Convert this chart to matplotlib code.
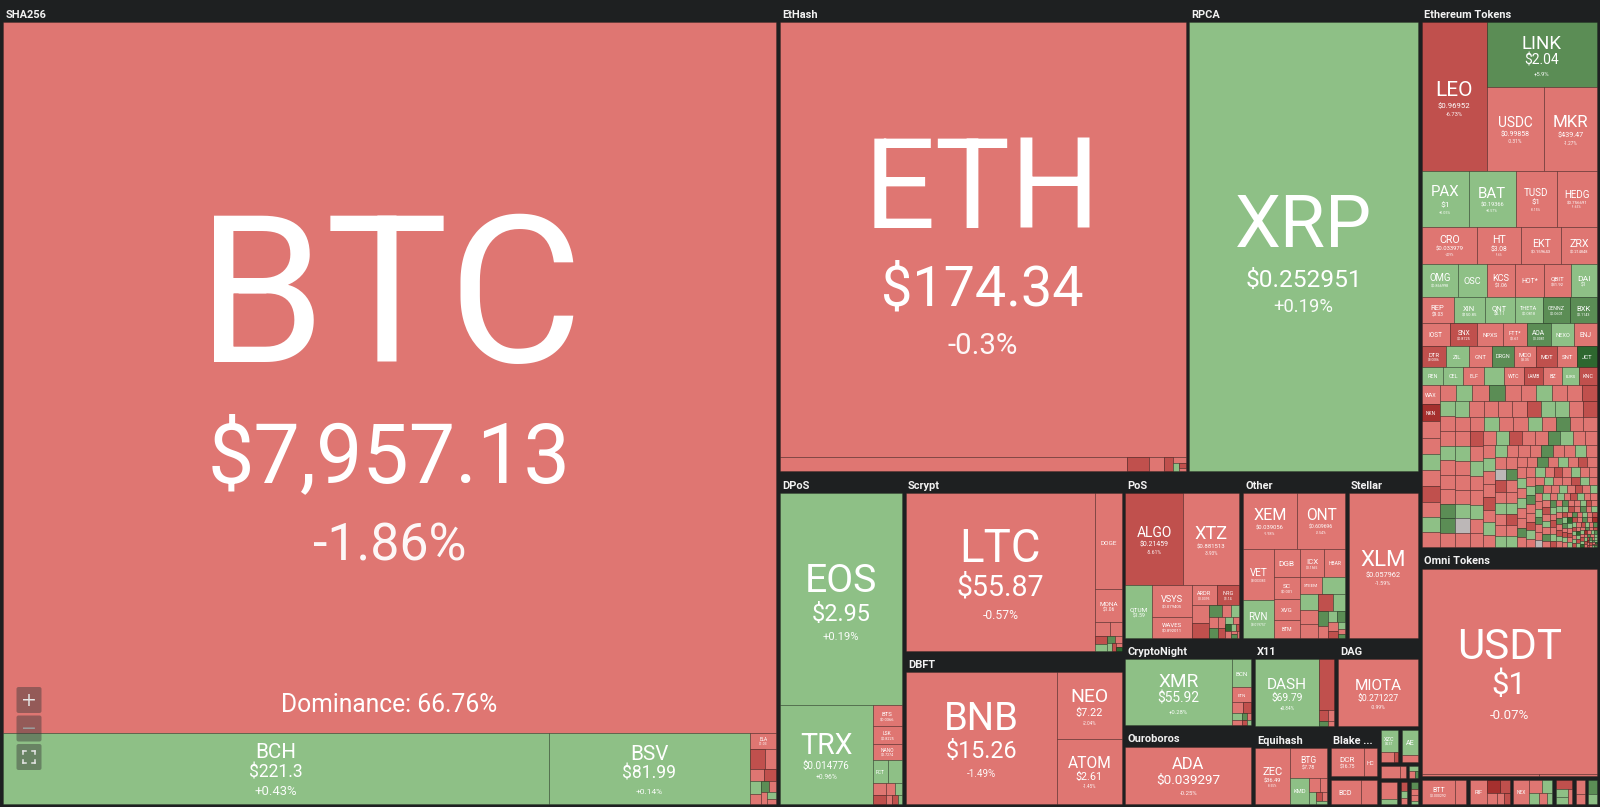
import matplotlib
matplotlib.use("Agg")
import matplotlib.pyplot as plt
from matplotlib.patches import Rectangle, FancyBboxPatch

plt.rcParams['font.family'] = ['Roboto', 'DejaVu Sans']

# ---------------- data ----------------
GROUP_NAMES = ['SHA256', 'EtHash', 'RPCA', 'Ethereum Tokens', 'Omni Tokens',
               'TRC-10', 'RSK', 'NEP-5', 'BEP-2', 'Waves', 'TRC-20',
               'DPoS', 'Scrypt', 'DBFT', 'PoS', 'Other', 'Stellar',
               'CryptoNight', 'Ouroboros', 'X11', 'DAG', 'Equihash', 'Blake ...',
               'X13', 'Zcoin', 'Aeternity', 'Lyra2', 'Groestl', 'Quark', 'NeoScrypt', 'Skein']
GROUP_WEIGHTS = [627.8, 193.9, 110.2, 98.3, 41.2,
                 1.34, 1.23, 1.18, 0.56, 0.36, 0.34,
                 42.1, 39.6, 33.9, 19.7, 17.7, 12.2,
                 11.4, 10.3, 7.4, 7.5, 5.9, 2.5,
                 1.4, 0.76, 0.72, 0.45, 0.2, 0.52, 0.26, 0.29]

# (symbol, size, price, 24h change %)
SHA256_COINS = [('BTC', 549500, '$7,957.13', -1.86), ('BCH', 38800, '$221.3', 0.43),
                ('BSV', 14300, '$81.99', 0.14), ('ELA', 420, '$1.03', -2.1)]
SHA256_TAIL = [300, 220, 180, 150, 130, 110, 90, 80, 70, 60, 50]
SHA256_TAIL_COLORS = 'RrrRgrGrrgr'

ETHASH_COINS = [('ETH', 177000, '$174.34', -0.3), ('ETC', 4900, '$3.82', -0.46),
                ('ETP', 320, '$0.0759', -5.3), ('UBQ', 210, '$0.083', -1.2)]
ETHASH_TAIL = [120, 80, 50, 30, 20]
ETHASH_TAIL_COLORS = 'RrgRr'

RPCA_COINS = [('XRP', 102000, '$0.252951', 0.19)]

ETH_TOKENS = [('LEO', 8800, '$0.96952', -6.73), ('LINK', 6500, '$2.04', 5.9),
              ('USDC', 4400, '$0.99858', -0.31), ('MKR', 4050, '$439.47', -1.27),
              ('PAX', 2400, '$1', 0.05), ('BAT', 2400, '$0.19366', 0.57),
              ('TUSD', 2100, '$1', -0.15), ('HEDG', 2070, '$0.756691', -1.65),
              ('CRO', 1860, '$0.033979', -4.09), ('HT', 1470, '$3.08', -1.6),
              ('EKT', 1330, '$0.159643', -1.2), ('ZRX', 1200, '$0.214848', -1.27),
              ('OMG', 1100, '$0.866998', 4.4), ('OSC', 870, '$0.658111', 1.1),
              ('KCS', 870, '$1.06', -1.34), ('HOT*', 870, '$0.000617', -2.1),
              ('QBIT', 800, '$31.92', -0.86), ('DAI', 800, '$1', 0.3),
              ('REP', 760, '$9.03', -1.33), ('XIN', 750, '$150.85', 0.8),
              ('QNT', 710, '$6.11', 1.5), ('THETA', 680, '$0.0818', 1.0),
              ('CENNZ', 650, '$0.0601', 6.2), ('BXK', 640, '$0.1143', 7.4),
              ('IOST', 580, '$0.003766', -1.1), ('SNX', 570, '$0.8725', -6.5),
              ('NPXS', 520, '$0.000239', -1.9), ('FTT*', 500, '$1.61', -1.2),
              ('AOA', 500, '$0.0081', 6.0), ('NEXO', 480, '$0.0974', 1.3),
              ('ENJ', 470, '$0.0434', -2.3), ('DTR', 450, '$0.0086', -5.5),
              ('ZIL', 450, '$0.00412', 1.1), ('GNT', 420, '$0.0381', -1.6),
              ('DRGN', 420, '$0.0462', 5.6), ('MCO', 420, '$3.35', -1.5),
              ('MDT', 400, '$0.0124', -6.1), ('SNT', 380, '$0.0101', -2.2),
              ('JCT', 370, '$0.0276', 11.2), ('REN', 360, '$0.0421', 1.6),
              ('CEL', 350, '$0.1112', 2.4), ('ELF', 350, '$0.0512', -1.8),
              ('SEELE', 350, '$0.0218', 1.3), ('WTC', 330, '$0.602', -1.4),
              ('LAMB', 330, '$0.045', -5.9), ('BZ', 320, '$0.19', -2.2),
              ('EURS', 300, '$1.11', 0.6), ('KNC', 300, '$0.16', -5.2),
              ('WAX', 300, '$0.038', -1.9), ('NKN', 280, '$0.0135', -10.4)]
ETH_TOKENS_TAIL = [
    270, 264, 263, 255, 252, 250, 244, 243, 238, 235, 233, 230, 226, 225, 221, 220, 216, 215, 212, 210,
    209, 208, 207, 206, 205, 204, 203, 202, 201, 200, 199, 198, 197, 196, 195, 194, 193, 192, 191, 190,
    207, 206, 203, 202, 200, 198, 197, 195, 194, 192,
    190, 188, 185, 184, 181, 180, 177, 175, 174, 171, 170, 168, 166, 164, 162, 160, 158, 157, 155, 153,
    152, 150, 148, 147, 145, 144, 142, 140, 139, 137, 136, 134, 133, 131, 130, 129, 127, 126, 125, 123,
    121, 120, 118, 117, 115, 114, 112, 111, 110, 108, 107, 106, 104, 103, 102, 100, 99, 98, 97, 95,
    94, 93, 92, 91, 90, 89, 88, 87, 86, 85, 84, 83, 82, 81, 80, 79, 78, 77, 76, 75,
    74, 73, 72, 71, 70, 69, 68, 67, 66, 65,
    64, 63, 62, 61, 60, 59, 58, 57, 56, 55, 55, 54, 53, 52, 52, 51, 50, 50, 49, 48,
    48, 47, 47, 46, 46, 45, 45, 44, 44, 43, 43, 42, 42, 41, 41, 40, 40, 39, 39, 38,
    38, 37, 37, 36, 36, 35, 35, 34, 34, 33, 33, 32, 32, 31, 31, 30, 30, 29, 29, 28,
    28, 27, 27, 27, 26, 26, 26, 25, 25, 25, 24, 24, 24, 23, 23, 23, 22, 22, 22, 21,
    21, 21, 20, 20, 20, 19, 19, 19, 18, 18, 18, 17, 17, 17, 16, 16, 16, 15, 15, 15,
    14, 14, 14, 13, 13, 13, 12, 12, 12, 11, 11, 11, 10, 10, 10, 9, 9, 9, 8, 8,
    8, 8, 7, 7, 7, 7, 6, 6, 6, 6, 5, 5, 5, 5, 5, 4, 4, 4, 4, 4]
ETH_TOKENS_TAIL_COLORS = ('rrgrRrgrrg' 'rGrrgrrRgr' 'rgrrGrgrrR' 'grrgrrnrgr' 'rGrrgRrrgr'
                          'rgrGrrRrgr' 'rgrrrgRrrG' 'grrrgrrRrg' 'rgrrrGrrgr' 'rnRrgrrgrG'
                          'rrgRrgrrGr' 'grRrrgrgrr' 'GrrgrRrgrr' 'rgGrrRgrrg' 'rrRgrGrrgr'
                          'RrgrrgGrrn' 'grRrgrGrrg' 'rRgrrGgrRr' 'gRrGrrgRrg' 'rGrRgrgRrG'
                          'rgRrGrgrRg' 'GrRgrEgrRr' 'gRrGrDgrRg' 'rGRgrgRrEg' 'RgrGrRgDrg'
                          'GrRgErgRrG' 'rgRGrgDrRg' 'RrGgrERgrG' 'gRrEGrgDRg' 'rGgRrEgrDG'
                          'RgErGrgRDr')

OMNI_COINS = [('USDT', 36300, '$1', -0.07)]
OMNI_TAIL = [300, 150]
OMNI_TAIL_COLORS = 'rr'

TRC10_COINS = [('BTT', 560, '$0.000292', -2.3)]
TRC10_TAIL = [190]
TRC10_TAIL_COLORS = 'r'
RSK_COINS = [('RIF', 290, '$0.0713', -1.1)]
RSK_TAIL = [120, 90, 70, 50, 40]
RSK_TAIL_COLORS = 'DRrrR'
NEP5_COINS = [('NEX', 340, '$0.72', -1.5)]
NEP5_TAIL = [150, 120, 100, 80, 50]
NEP5_TAIL_COLORS = 'rggrg'
BEP2_TAIL = [150, 100, 80, 60]
BEP2_TAIL_COLORS = 'Rggr'
WAVES_TAIL = [120, 90]
WAVES_TAIL_COLORS = 'rr'
TRC20_TAIL = [90, 60]
TRC20_TAIL_COLORS = 'Gg'

DPOS_COINS = [('EOS', 25300, '$2.95', 0.19), ('TRX', 8900, '$0.014776', 0.96),
              ('BTS', 600, '$0.0366', -1.8), ('LSK', 500, '$0.8225', -1.2),
              ('NANO', 480, '$0.7274', -1.5), ('FCT', 350, '$3.2', 2.1)]
DPOS_TAIL = [300, 150, 120, 100, 80, 60, 50, 40]
DPOS_TAIL_COLORS = 'grRrgrRg'

SCRYPT_COINS = [('LTC', 30400, '$55.87', -0.57), ('DOGE', 2600, '$0.002247', -0.86),
                ('MONA', 900, '$1.06', -1.2)]
SCRYPT_TAIL = [200, 160, 100, 80, 60, 50, 40, 30, 25, 20]
SCRYPT_TAIL_COLORS = 'rrRgGrgRrE'

DBFT_COINS = [('BNB', 19800, '$15.26', -1.49), ('NEO', 4300, '$7.22', -2.04),
              ('ATOM', 4200, '$2.61', -1.45)]

POS_COINS = [('ALGO', 5100, '$0.21459', -5.61), ('XTZ', 5000, '$0.881513', -3.93),
             ('QTUM', 1350, '$1.59', 0.62), ('VSYS', 1200, '$0.079405', -2.71),
             ('WAVES', 800, '$0.892011', -1.63), ('ARDR', 450, '$0.0395', -1.4),
             ('NRG', 420, '$1.14', -5.8)]
POS_TAIL = [300, 250, 150, 120, 100, 90, 80, 70, 60, 50, 45, 40, 35, 30, 25, 20, 20, 15]
POS_TAIL_COLORS = 'rRGrgrGrRgrErgRrGr'

OTHER_COINS = [('XEM', 3000, '$0.039056', -1.98), ('ONT', 2700, '$0.609696', -2.54),
               ('VET', 1600, '$0.003383', -0.88), ('RVN', 1150, '$0.019757', 0.82),
               ('DGB', 740, '$0.005043', -1.72), ('ICX', 700, '$0.1565', -1.91),
               ('HBAR', 600, '$0.009421', -1.47), ('SC', 580, '$0.001', -0.93),
               ('XVG', 540, '$0.00325', -1.2), ('BTM', 460, '$0.05547', -1.5),
               ('STEEM', 400, '$0.1355', -1.1), ('NIM', 260, '$0.0012', -1.3)]
OTHER_TAIL = [400, 300, 250, 250, 200, 150, 120, 100, 90, 80, 60, 50, 40, 30]
OTHER_TAIL_COLORS = 'ggrRgGrgGrRgrG'

STELLAR_COINS = [('XLM', 9900, '$0.057962', -1.59)]

CRYPTONIGHT_COINS = [('XMR', 7100, '$55.92', 0.28), ('BCN', 550, '$0.000437', 0.51),
                     ('ETN', 300, '$0.0035', -1.6)]
CRYPTONIGHT_TAIL = [120, 90, 70, 50, 40, 30, 25, 20]
CRYPTONIGHT_TAIL_COLORS = 'rRgrGrRg'

OUROBOROS_COINS = [('ADA', 7300, '$0.039297', -0.25)]

X11_COINS = [('DASH', 4600, '$69.79', 0.84), ('ABBC', 800, '$0.126', -5.4)]
X11_TAIL = [100, 80, 50, 40]
X11_TAIL_COLORS = 'RrGr'

DAG_COINS = [('MIOTA', 5600, '$0.271227', -0.99)]

EQUIHASH_COINS = [('ZEC', 1800, '$36.49', -0.55), ('BTG', 1000, '$7.78', -0.85),
                  ('KMD', 450, '$0.6245', 0.62)]
EQUIHASH_TAIL = [150, 100, 80, 50, 40, 30]
EQUIHASH_TAIL_COLORS = 'rrgRrg'

BLAKE_COINS = [('DCR', 900, '$16.75', -0.7), ('HC', 350, '$1.06', -1.56)]
X13_COINS = [('BCD', 650, '$0.466297', -1.09), ('STRAT', 360, '$0.301', -1.5)]
ZCOIN_COINS = [('XZC', 320, '$4.37', 0.4)]
ZCOIN_TAIL = [120, 40]
ZCOIN_TAIL_COLORS = 'rR'
AE_COINS = [('AE', 320, '$0.27', 0.3)]
AE_TAIL = [100]
AE_TAIL_COLORS = 'r'
LYRA2_TAIL = [300, 80]
LYRA2_TAIL_COLORS = 'rr'
GROESTL_TAIL = [80, 60, 40]
GROESTL_TAIL_COLORS = 'grG'
QUARK_TAIL = [350, 90]
QUARK_TAIL_COLORS = 'rg'
NEOSCRYPT_TAIL = [80, 60, 50]
NEOSCRYPT_TAIL_COLORS = 'Rgr'
SKEIN_TAIL = [70, 60, 50, 30]
SKEIN_TAIL_COLORS = 'Grrg'

BTC_DOMINANCE = 'Dominance: 66.76%'

GROUP_DATA = {
    'SHA256': (SHA256_COINS, SHA256_TAIL, SHA256_TAIL_COLORS),
    'EtHash': (ETHASH_COINS, ETHASH_TAIL, ETHASH_TAIL_COLORS),
    'RPCA': (RPCA_COINS, [], ''),
    'Ethereum Tokens': (ETH_TOKENS, ETH_TOKENS_TAIL, ETH_TOKENS_TAIL_COLORS),
    'Omni Tokens': (OMNI_COINS, OMNI_TAIL, OMNI_TAIL_COLORS),
    'TRC-10': (TRC10_COINS, TRC10_TAIL, TRC10_TAIL_COLORS),
    'RSK': (RSK_COINS, RSK_TAIL, RSK_TAIL_COLORS),
    'NEP-5': (NEP5_COINS, NEP5_TAIL, NEP5_TAIL_COLORS),
    'BEP-2': ([], BEP2_TAIL, BEP2_TAIL_COLORS),
    'Waves': ([], WAVES_TAIL, WAVES_TAIL_COLORS),
    'TRC-20': ([], TRC20_TAIL, TRC20_TAIL_COLORS),
    'DPoS': (DPOS_COINS, DPOS_TAIL, DPOS_TAIL_COLORS),
    'Scrypt': (SCRYPT_COINS, SCRYPT_TAIL, SCRYPT_TAIL_COLORS),
    'DBFT': (DBFT_COINS, [], ''),
    'PoS': (POS_COINS, POS_TAIL, POS_TAIL_COLORS),
    'Other': (OTHER_COINS, OTHER_TAIL, OTHER_TAIL_COLORS),
    'Stellar': (STELLAR_COINS, [], ''),
    'CryptoNight': (CRYPTONIGHT_COINS, CRYPTONIGHT_TAIL, CRYPTONIGHT_TAIL_COLORS),
    'Ouroboros': (OUROBOROS_COINS, [], ''),
    'X11': (X11_COINS, X11_TAIL, X11_TAIL_COLORS),
    'DAG': (DAG_COINS, [], ''),
    'Equihash': (EQUIHASH_COINS, EQUIHASH_TAIL, EQUIHASH_TAIL_COLORS),
    'Blake ...': (BLAKE_COINS, [], ''),
    'X13': (X13_COINS, [], ''),
    'Zcoin': (ZCOIN_COINS, ZCOIN_TAIL, ZCOIN_TAIL_COLORS),
    'Aeternity': (AE_COINS, AE_TAIL, AE_TAIL_COLORS),
    'Lyra2': ([], LYRA2_TAIL, LYRA2_TAIL_COLORS),
    'Groestl': ([], GROESTL_TAIL, GROESTL_TAIL_COLORS),
    'Quark': ([], QUARK_TAIL, QUARK_TAIL_COLORS),
    'NeoScrypt': ([], NEOSCRYPT_TAIL, NEOSCRYPT_TAIL_COLORS),
    'Skein': ([], SKEIN_TAIL, SKEIN_TAIL_COLORS),
}

# ---------------- layout structure ----------------
TREE = ('h', ['SHA256',
              ('h', [('v', [('h', ['EtHash', 'RPCA']),
                            ('h', ['DPoS', ('v', ['Scrypt', 'DBFT']),
                                   ('v', [('h', ['PoS', 'Other', 'Stellar']),
                                          ('h', [('v', ['CryptoNight', 'Ouroboros']),
                                                 ('v', [('h', ['X11', 'DAG']),
                                                        ('h', ['Equihash', ('v', ['Blake ...', 'X13']),
                                                               ('v', [('h', ['Zcoin', 'Aeternity']),
                                                                      ('h', ['Lyra2', 'Groestl']),
                                                                      ('h', ['Quark', 'NeoScrypt', 'Skein'])])])])])])])]),
                     ('v', ['Ethereum Tokens', 'Omni Tokens',
                            ('h', ['TRC-10', 'RSK', 'NEP-5', 'BEP-2', 'Waves', 'TRC-20'])])])])
ETH_TOP_TREE = ('h', ['LEO', ('v', ['LINK', ('h', ['USDC', 'MKR'])])])

W, H = 1600, 807
BG = '#1e2021'
PALETTE = {'r': '#df7672', 'R': '#c0504d', 'D': '#a5302e', 'g': '#8ec086',
           'G': '#5b8d55', 'E': '#2e672f', 'n': '#bcb7b7'}


def change_code(c):
    if c == 0:
        return 'n'
    if c > 0:
        return 'g' if c < 5 else ('G' if c < 10 else 'E')
    return 'r' if c > -5 else ('R' if c > -10 else 'D')


def tree_weight(node, wfun):
    if isinstance(node, str):
        return wfun(node)
    return sum(tree_weight(k, wfun) for k in node[1])


def place(node, x0, y0, x1, y1, wfun, out):
    if isinstance(node, str):
        out[node] = (x0, y0, x1, y1)
        return
    d, kids = node
    tot = sum(tree_weight(k, wfun) for k in kids)
    if d == 'h':
        x = x0
        for k in kids:
            xe = x + (x1 - x0) * tree_weight(k, wfun) / tot
            place(k, x, y0, xe, y1, wfun, out)
            x = xe
    else:
        y = y0
        for k in kids:
            ye = y + (y1 - y0) * tree_weight(k, wfun) / tot
            place(k, x0, y, x1, ye, wfun, out)
            y = ye


def squarify(sizes, x, y, w, h):
    total = float(sum(sizes))
    scale = w * h / total
    vals = [s * scale for s in sizes]
    rects = []
    i = 0
    while i < len(vals):
        short = max(min(w, h), 1e-9)

        def worst(r):
            s = sum(r)
            return max(short * short * max(r) / (s * s), s * s / (short * short * min(r)))
        row = [vals[i]]
        j = i + 1
        while j < len(vals) and worst(row + [vals[j]]) <= worst(row):
            row.append(vals[j])
            j += 1
        s = sum(row)
        if w >= h:
            cw = s / h
            yy = y
            for v in row:
                rh = v / cw
                rects.append((x, yy, cw, rh))
                yy += rh
            x += cw
            w -= cw
        else:
            rh = s / w
            xx = x
            for v in row:
                rw = v / rh
                rects.append((xx, y, rw, rh))
                xx += rw
            y += rh
            h -= rh
        i = j
    return rects


fig = plt.figure(figsize=(W / 100, H / 100), dpi=100)
fig.patch.set_facecolor(BG)
ax = fig.add_axes([0, 0, 1, 1])
ax.set_xlim(0, W)
ax.set_ylim(H, 0)
ax.axis('off')
ax.set_facecolor(BG)

PT = 0.72  # px -> pt at 100 dpi


def fmt_change(c):
    return ('+' if c > 0 else '') + ('%g' % c) + '%'


def draw_label(x, y, w, h, name, price, change, extra=None):
    n = max(len(name), 2.2)
    f1 = min(0.29 * h, 0.96 * w / n)
    if f1 < 4.2:
        return
    root = (w * h) ** 0.5
    chg = fmt_change(change)
    f2 = min(0.165 * root, 0.5 * w / (0.52 * len(price)), 0.85 * f1)
    f3 = min(0.07 * root, 0.6 * w / (0.5 * len(chg)), 0.75 * f2)
    n_lines = 1
    if f2 >= 3.2:
        n_lines = 2
        if f3 >= 2.8:
            n_lines = 3
    cap = 0.711
    g1, g2 = 0.3 * f1, 0.5 * f2
    total = cap * f1
    if n_lines > 1:
        total += g1 + cap * f2
    if n_lines > 2:
        total += g2 + cap * f3
    top = y + h / 2 + 0.015 * h - total / 2
    base = top + cap * f1
    ax.text(x + w / 2, base, name, fontsize=f1 * PT, color='white', ha='center', va='baseline')
    if n_lines > 1:
        base += g1 + cap * f2
        ax.text(x + w / 2, base, price, fontsize=f2 * PT, color='white', ha='center', va='baseline')
    if n_lines > 2:
        base += g2 + cap * f3
        ax.text(x + w / 2, base, chg, fontsize=f3 * PT, color='white', ha='center',
                va='baseline', alpha=0.95)
    if extra:
        ax.text(x + w / 2, y + h - 21, extra, fontsize=24.6 * PT, color='white',
                ha='center', va='baseline')


def draw_cell(rect, code):
    x, y, w, h = rect
    ax.add_patch(Rectangle((x, y), w, h, facecolor=PALETTE[code],
                           edgecolor=(0, 0, 0, 0.22), linewidth=0.6))


# group blocks
gweights = dict(zip(GROUP_NAMES, GROUP_WEIGHTS))
blocks = {}
place(TREE, 1.25, 2.0, W - 1.25, H - 1.25, lambda k: gweights[k], blocks)

PAD = 1.75
for g in GROUP_NAMES:
    bx0, by0, bx1, by1 = blocks[g]
    show_head = (by1 - by0) >= 40 and (bx1 - bx0) >= 35
    cx0, cx1 = bx0 + PAD, bx1 - PAD
    cy0 = by0 + 20 if show_head else by0 + PAD
    cy1 = by1 - PAD
    if show_head:
        ax.text(bx0 + 4, by0 + 15.5, g, fontsize=11 * PT, color='#f2f2f2',
                ha='left', va='baseline', fontweight='bold')
    coins, tail, tail_cols = GROUP_DATA[g]
    items = [(c[0], c[1], c[2], c[3], change_code(c[3])) for c in coins]
    items += [(None, s, None, None, tail_cols[i]) for i, s in enumerate(tail)]
    placed = []
    if g == 'Ethereum Tokens':
        top_names = ['LEO', 'LINK', 'USDC', 'MKR']
        top_items = [it for it in items if it[0] in top_names]
        rest = [it for it in items if it[0] not in top_names]
        wt = sum(it[1] for it in top_items)
        tot = sum(it[1] for it in items)
        ysplit = cy0 + (cy1 - cy0) * wt / tot
        sizes = {it[0]: it[1] for it in top_items}
        out = {}
        place(ETH_TOP_TREE, cx0, cy0, cx1, ysplit, lambda k: sizes[k], out)
        for it in top_items:
            a, b, c, d = out[it[0]]
            placed.append((it, (a, b, c - a, d - b)))
        rest = sorted(rest, key=lambda t: -t[1])
        rects = squarify([it[1] for it in rest], cx0, ysplit, cx1 - cx0, cy1 - ysplit)
        placed += list(zip(rest, rects))
    else:
        items = sorted(items, key=lambda t: -t[1])
        rects = squarify([it[1] for it in items], cx0, cy0, cx1 - cx0, cy1 - cy0)
        placed = list(zip(items, rects))
    for it, r in placed:
        draw_cell(r, it[4])
    for it, r in placed:
        if it[0]:
            draw_label(r[0], r[1], r[2], r[3], it[0], it[2], it[3],
                       BTC_DOMINANCE if it[0] == 'BTC' else None)

# zoom controls (UI overlay)
for i, sym in enumerate(['+', '\u2212', '']):
    yb = 687 + i * 28.5
    ax.add_patch(FancyBboxPatch((16.5, yb), 25, 26, boxstyle='round,pad=0,rounding_size=2',
                                facecolor='#3a3a3a', edgecolor='none', alpha=0.45))
    if sym:
        ax.text(29, yb + 13, sym, fontsize=19 * PT, color='#e6e6e6' if i == 0 else '#9a9a9a',
                ha='center', va='center', family='DejaVu Sans')
    else:
        cxm, cym, s, L = 29, yb + 13, 6, 3
        for sx in (-1, 1):
            for sy in (-1, 1):
                ax.plot([cxm + sx * s, cxm + sx * s], [cym + sy * s, cym + sy * (s - L)],
                        color='#e6e6e6', lw=1.1)
                ax.plot([cxm + sx * s, cxm + sx * (s - L)], [cym + sy * s, cym + sy * s],
                        color='#e6e6e6', lw=1.1)

fig.savefig('out.png', dpi=100, facecolor=BG)
